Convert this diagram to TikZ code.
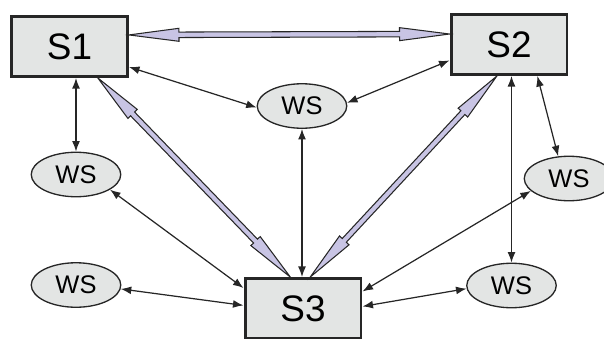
\documentclass[tikz,border=0pt]{standalone}
\usepackage{fontspec}
\setmainfont{Liberation Sans}
\usetikzlibrary{arrows.meta,calc,shapes.geometric}

\definecolor{boxgray}{RGB}{227,229,228}
\definecolor{pipeblue}{RGB}{200,196,228}

% sizes of the fat two-headed links between servers
\newcommand\headlen{1.0cm}
\newcommand\headwd{0.13cm}
\newcommand\shaftwd{0.055cm}

% fat two-headed link from #1 to #2
\newcommand\pipelink[2]{%
  \filldraw[pipe] (#1)
    -- ($($(#1)!\headlen!(#2)$)!\headwd!90:(#2)$)
    -- ($($(#1)!\headlen!(#2)$)!\shaftwd!90:(#2)$)
    -- ($($(#2)!\headlen!(#1)$)!\shaftwd!-90:(#1)$)
    -- ($($(#2)!\headlen!(#1)$)!\headwd!-90:(#1)$)
    -- (#2)
    -- ($($(#2)!\headlen!(#1)$)!\headwd!90:(#1)$)
    -- ($($(#2)!\headlen!(#1)$)!\shaftwd!90:(#1)$)
    -- ($($(#1)!\headlen!(#2)$)!\shaftwd!-90:(#2)$)
    -- ($($(#1)!\headlen!(#2)$)!\headwd!-90:(#2)$)
    -- cycle;}

\begin{document}
\begin{tikzpicture}[
    x=0.02cm, y=-0.02cm,
    server/.style={rectangle, draw=black!85, line width=1.7pt, fill=boxgray,
                   minimum width=2.32cm, minimum height=1.2cm, inner sep=0pt,
                   font=\fontsize{21}{21}\selectfont},
    ws/.style={ellipse, draw=black!85, line width=0.75pt, fill=boxgray,
               minimum width=1.79cm, minimum height=0.89cm, inner sep=0pt,
               font=\fontsize{14.5}{14.5}\selectfont},
    wire/.style={{Latex[length=6pt,width=4.5pt]}-{Latex[length=6pt,width=4.5pt]},
                 line width=0.7pt, draw=black!85},
    pipe/.style={fill=pipeblue, draw=black!85, line width=0.6pt, line join=miter}
]
    \useasboundingbox (0,0) rectangle (604,338);
    \clip (0,0) rectangle (604,338);

    % servers
    \node[server] (s1) at (69.5,46.5) {S1};
    \node[server] (s2) at (509,44.5) {S2};
    \node[server] (s3) at (303,308.5) {S3};

    % workstations
    \node[ws] (wsm) at (302,106) {WS};
    \node[ws] (wsl) at (76,174.5) {WS};
    \node[ws] (wsbl) at (76,285) {WS};
    \node[ws] (wsr) at (569,178.5) {WS};
    \node[ws] (wsbr) at (511.5,285.5) {WS};

    % server to server
    \pipelink{s1.11}{s2.170}
    \pipelink{s1.-48.7}{s3.112.4}
    \pipelink{s2.249}{s3.77.5}

    % server to workstation
    \draw[wire] (s1.-19.6) -- (wsm.182);
    \draw[wire] (s2.195.5) -- (wsm.4);
    \draw[wire] (wsl.north |- s1.south) -- (wsl.north);
    \draw[wire] (wsm.south) -- (wsm.south |- s3.north);
    \draw[wire] (wsbr.north |- s2.south) -- (wsbr.north);
    \draw[wire] (s2.-48) -- (wsr.116);
    \draw[wire] (wsl.-24) -- (s3.161);
    \draw[wire] (wsbl.-5) -- (s3.177.6);
    \draw[wire] (wsr.198.6) -- (s3.16.9);
    \draw[wire] (wsbr.184.4) -- (s3.2.3);
\end{tikzpicture}
\end{document}
